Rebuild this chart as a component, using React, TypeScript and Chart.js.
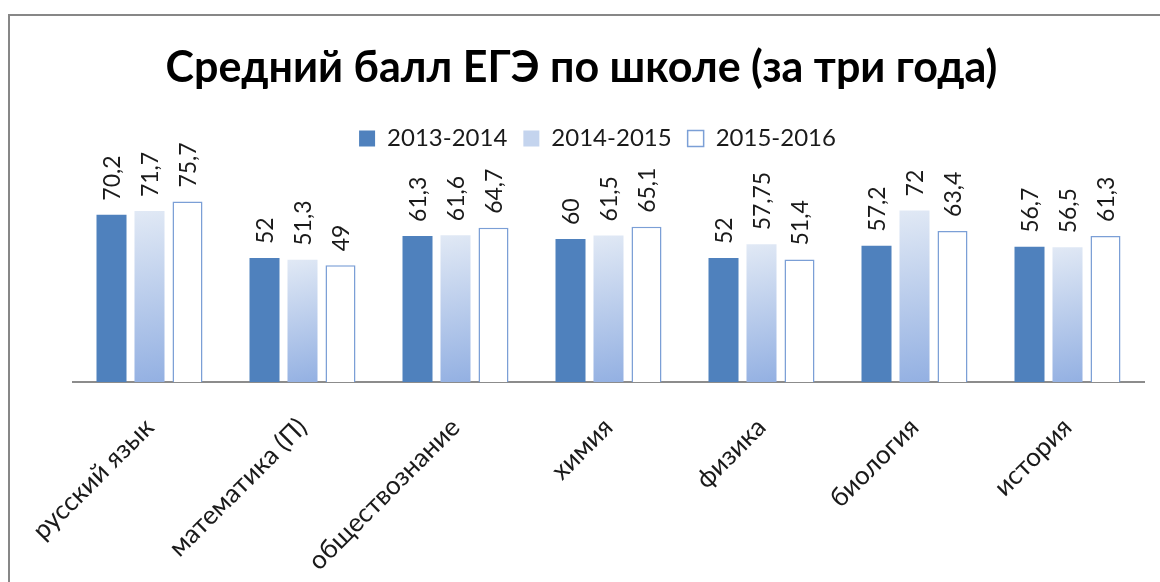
import React, { useEffect, useRef } from "react";
import { Chart, registerables } from "chart.js";

Chart.register(...registerables);

const categories = [
  "русский язык",
  "математика (П)",
  "обществознание",
  "химия",
  "физика",
  "биология",
  "история",
];
const seriesNames = ["2013-2014", "2014-2015", "2015-2016"];
const values2013 = [70.2, 52, 61.3, 60, 52, 57.2, 56.7];
const values2014 = [71.7, 51.3, 61.6, 61.5, 57.75, 72, 56.5];
const values2015 = [75.7, 49, 64.7, 65.1, 51.4, 63.4, 61.3];
const titleText = "Средний балл ЕГЭ по школе (за три года)";

const FONT = "Lato, 'Open Sans', sans-serif";

const fmt = (v: number) => String(v).replace(".", ",");

const framePlugin = {
  id: "frame",
  beforeDraw(chart: any) {
    const ctx = chart.ctx;
    ctx.save();
    ctx.fillStyle = "#ffffff";
    ctx.fillRect(0, 0, chart.width, chart.height);
    ctx.fillStyle = "#878787";
    ctx.fillRect(8, 14, chart.width, 2);
    ctx.fillRect(8, 14, 2, chart.height);
    ctx.restore();
  },
};

const shiftPlugin = {
  id: "shiftBoxes",
  afterLayout(chart: any) {
    if (chart.titleBlock) {
      chart.titleBlock.left -= 27;
      chart.titleBlock.right -= 27;
    }
    if (chart.legend) {
      chart.legend.left -= 11;
      chart.legend.right -= 11;
    }
  },
};

const valueLabelPlugin = {
  id: "valueLabels",
  afterDatasetsDraw(chart: any) {
    const ctx = chart.ctx;
    ctx.save();
    ctx.font = `23px ${FONT}`;
    ctx.fillStyle = "#1a1a1a";
    ctx.textAlign = "left";
    ctx.textBaseline = "middle";
    chart.data.datasets.forEach((ds: any, di: number) => {
      const meta = chart.getDatasetMeta(di);
      meta.data.forEach((bar: any, i: number) => {
        const v = ds.data[i];
        ctx.save();
        ctx.translate(bar.x, bar.y - 14);
        ctx.rotate(-Math.PI / 2);
        ctx.fillText(fmt(v), 0, 1);
        ctx.restore();
      });
    });
    ctx.restore();
  },
};

export default function App() {
  const ref = useRef<HTMLCanvasElement>(null);

  useEffect(() => {
    if (!ref.current) return;
    const gradientFill = (c: any) => {
      const chart = c.chart;
      const { ctx, chartArea, scales } = chart;
      if (!chartArea || c.type !== "data") return "#c6d6ee";
      const v = c.raw as number;
      const top = scales.y.getPixelForValue(v);
      const bottom = scales.y.getPixelForValue(0);
      const xc = scales.x.getPixelForValue(c.dataIndex);
      const g = ctx.createLinearGradient(xc - 15, top, xc + 15, bottom);
      g.addColorStop(0, "#e1e9f5");
      g.addColorStop(1, "#93b0e2");
      return g;
    };

    const chart = new Chart(ref.current, {
      type: "bar",
      data: {
        labels: categories,
        datasets: [
          {
            label: seriesNames[0],
            data: values2013,
            backgroundColor: "#4f81bd",
            borderColor: "#4f81bd",
            borderWidth: 0,
          },
          {
            label: seriesNames[1],
            data: values2014,
            backgroundColor: gradientFill,
            borderWidth: 0,
          },
          {
            label: seriesNames[2],
            data: values2015,
            backgroundColor: "#ffffff",
            borderColor: "#7b9fd6",
            borderWidth: 1.5,
          },
        ],
      },
      options: {
        animation: false,
        responsive: false,
        maintainAspectRatio: false,
        datasets: {
          bar: {
            categoryPercentage: 0.745,
            barPercentage: 0.79,
          },
        },
        layout: {
          padding: { left: 73, right: 16, top: 0, bottom: 0 },
        },
        plugins: {
          title: {
            display: true,
            text: titleText,
            color: "#000000",
            font: { family: FONT, size: 43, weight: "bold" },
            padding: { top: 42, bottom: 17 },
          },
          legend: {
            display: true,
            position: "top",
            labels: {
              color: "#1a1a1a",
              font: { family: FONT, size: 24 },
              boxWidth: 16,
              boxHeight: 16,
              padding: 16,
              generateLabels: (chart: any) => {
                const items = Chart.defaults.plugins.legend.labels.generateLabels(chart);
                return items.map((it: any, i: number) => {
                  if (i === 0) {
                    it.fillStyle = "#4f81bd";
                    it.strokeStyle = "#4f81bd";
                    it.lineWidth = 0;
                  } else if (i === 1) {
                    it.fillStyle = "#c4d4ee";
                    it.strokeStyle = "#c4d4ee";
                    it.lineWidth = 0;
                  } else {
                    it.fillStyle = "#ffffff";
                    it.strokeStyle = "#7b9fd6";
                    it.lineWidth = 1.5;
                  }
                  return it;
                });
              },
            },
          },
          tooltip: { enabled: false },
        },
        scales: {
          x: {
            offset: true,
            grid: { display: false },
            border: { display: true, color: "#8c8c8c", width: 2 },
            ticks: {
              minRotation: 45,
              maxRotation: 45,
              autoSkip: false,
              padding: 22,
              color: "#1a1a1a",
              font: { family: FONT, size: 26 },
            },
            afterFit: (scale: any) => {
              scale.height = 200;
            },
          },
          y: {
            display: false,
            min: 0,
            max: 92.9,
          },
        },
      },
      plugins: [framePlugin, shiftPlugin, valueLabelPlugin],
    });
    return () => chart.destroy();
  }, []);

  return (
    <div style={{ position: "fixed", left: 0, top: 0, width: 1160, height: 582, background: "#fff" }}>
      <canvas ref={ref} width={1160} height={582} style={{ width: 1160, height: 582, display: "block" }} />
    </div>
  );
}
